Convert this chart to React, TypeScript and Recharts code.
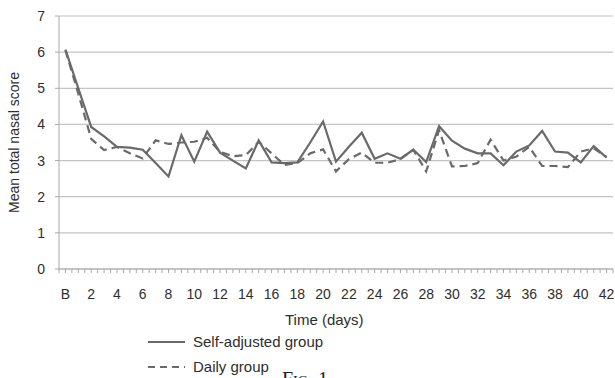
import { CartesianGrid, Line, LineChart, XAxis, YAxis } from "recharts";

const dayLabels = [
  "B", "1", "2", "3", "4", "5", "6", "7", "8", "9", "10", "11", "12", "13", "14",
  "15", "16", "17", "18", "19", "20", "21", "22", "23", "24", "25", "26", "27", "28",
  "29", "30", "31", "32", "33", "34", "35", "36", "37", "38", "39", "40", "41", "42",
];

const selfAdjusted = [
  6.07, 5.0, 3.93, 3.67, 3.38, 3.36, 3.3, 2.93, 2.56, 3.7, 2.97, 3.8, 3.22, 3.0, 2.78,
  3.56, 2.95, 2.93, 2.95, 3.5, 4.08, 2.97, 3.38, 3.77, 3.05, 3.2, 3.05, 3.3, 2.96,
  3.95, 3.55, 3.33, 3.2, 3.2, 2.87, 3.25, 3.42, 3.82, 3.25, 3.22, 2.95, 3.4, 3.08,
];

const dailyGroup = [
  6.05, 4.85, 3.6, 3.29, 3.38, 3.2, 3.06, 3.56, 3.46, 3.5, 3.52, 3.63, 3.24, 3.12, 3.15,
  3.52, 3.2, 2.88, 2.93, 3.2, 3.31, 2.7, 3.04, 3.22, 2.94, 2.94, 3.04, 3.3, 2.7,
  3.84, 2.84, 2.85, 2.93, 3.58, 3.0, 3.11, 3.38, 2.85, 2.85, 2.82, 3.25, 3.34, 3.1,
];

const seriesNames = ["Self-adjusted group", "Daily group"];

const yTicks = [0, 1, 2, 3, 4, 5, 6, 7];

// ticks every half day, so the axis gets the small marks between categories
const xTicks = Array.from({ length: dayLabels.length * 2 + 1 }, (_, i) => i / 2 - 0.5);

const data = dayLabels.map((label, i) => ({
  day: i,
  label,
  self: selfAdjusted[i],
  daily: dailyGroup[i],
}));

const FONT = "'Liberation Sans', Arial, sans-serif";
const LINE = "#6a6a6a";
const AXIS = "#a8a8a8";
const TEXT = "#2e2e2e";

function fmtX(v: number): string {
  if (!Number.isInteger(v) || v % 2 !== 0) return "";
  return dayLabels[v] ?? "";
}

function LegendBox() {
  const dashes = [undefined, "7 5"];
  return (
    <div
      style={{
        position: "absolute",
        left: 148,
        top: 329,
        fontFamily: FONT,
        fontSize: 15,
        color: TEXT,
      }}
    >
      {seriesNames.map((name, i) => (
        <div key={name} style={{ display: "flex", alignItems: "center", height: 25 }}>
          <svg width={38} height={6} style={{ marginRight: 7 }}>
            <line x1={0} y1={3} x2={37} y2={3} stroke={LINE} strokeWidth={2} strokeDasharray={dashes[i]} />
          </svg>
          <span>{name}</span>
        </div>
      ))}
    </div>
  );
}

export default function App() {
  return (
    <div
      style={{
        position: "absolute",
        left: 0,
        top: 0,
        width: 615,
        height: 378,
        overflow: "hidden",
        background: "#fff",
      }}
    >
      <LineChart
        width={615}
        height={378}
        data={data}
        margin={{ top: 16, right: 2, left: 0, bottom: 79 }}
      >
        <CartesianGrid vertical={false} stroke="#c4c4c4" strokeWidth={1.2} />
        <XAxis
          dataKey="day"
          type="number"
          domain={[-0.5, 42.5]}
          ticks={xTicks}
          interval={0}
          tickFormatter={fmtX}
          height={30}
          stroke={AXIS}
          tickSize={4}
          tickMargin={16}
          tick={{ fill: TEXT, fontSize: 14, fontFamily: FONT }}
        />
        <YAxis
          domain={[0, 7]}
          ticks={yTicks}
          width={59}
          stroke={AXIS}
          tickSize={4}
          tickMargin={10}
          tick={{ fill: TEXT, fontSize: 14, fontFamily: FONT }}
          label={{
            value: "Mean total nasal score",
            angle: -90,
            position: "insideLeft",
            offset: 14,
            style: { textAnchor: "middle", fill: TEXT, fontSize: 14, fontFamily: FONT },
          }}
        />
        <Line
          type="linear"
          dataKey="self"
          name={seriesNames[0]}
          stroke={LINE}
          strokeWidth={2.2}
          dot={false}
          isAnimationActive={false}
        />
        <Line
          type="linear"
          dataKey="daily"
          name={seriesNames[1]}
          stroke={LINE}
          strokeWidth={2.2}
          strokeDasharray="8 5"
          dot={false}
          isAnimationActive={false}
        />
      </LineChart>
      <LegendBox />
      <div
        style={{
          position: "absolute",
          left: 285,
          top: 311,
          fontFamily: FONT,
          fontSize: 15,
          color: TEXT,
        }}
      >
        Time (days)
      </div>
      <div
        style={{
          position: "absolute",
          left: 282,
          top: 368,
          fontFamily: "'Liberation Serif', serif",
          fontSize: 20,
          color: "#222",
          fontVariant: "small-caps",
        }}
      >
        Fig. 1
      </div>
    </div>
  );
}
